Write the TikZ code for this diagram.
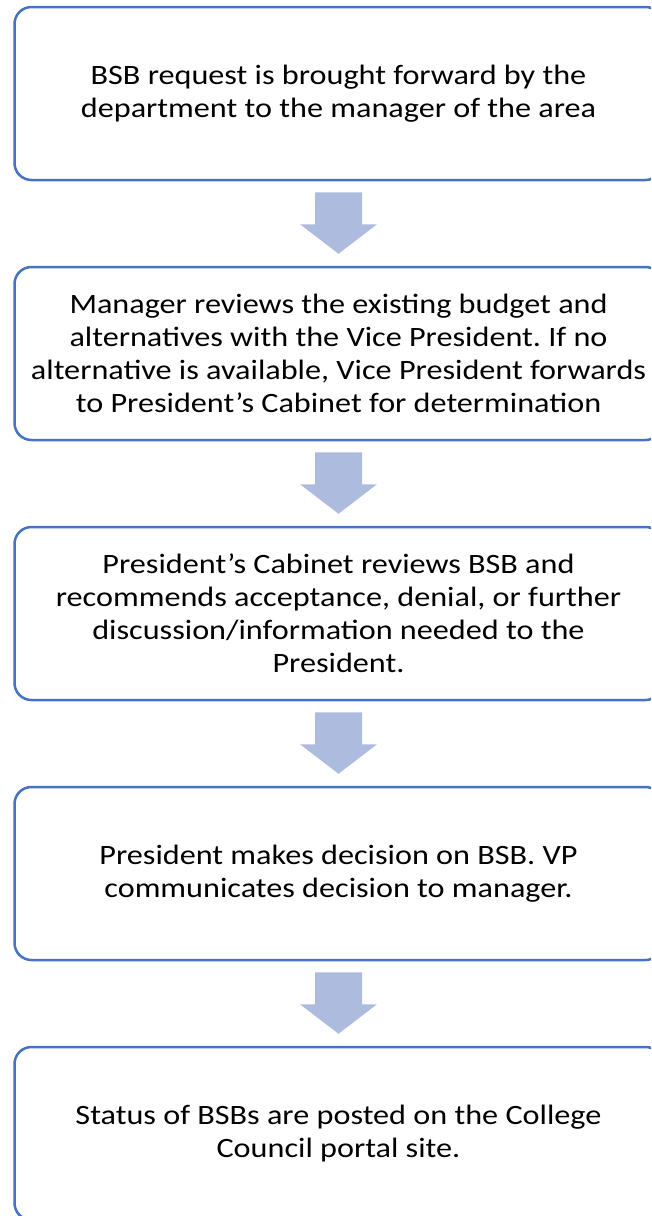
\documentclass[tikz,border=0pt]{standalone}
\usepackage{fontspec}
\setmainfont{Carlito}[FakeStretch=1.15]
\frenchspacing
\definecolor{boxblue}{RGB}{68,114,196}
\definecolor{arrowfill}{RGB}{173,187,222}
\tikzset{
  stepbox/.style={draw=boxblue, line width=2.5pt, rounded corners=17pt, fill=white,
    minimum width=648pt, minimum height=173pt, align=center, inner sep=0pt,
    font=\fontsize{28}{33}\selectfont, text=black},
  flowarrow/.style={fill=arrowfill, draw=none}
}
\newcommand\downflow[2]{%
  \fill[flowarrow] ([xshift=-23.5pt,yshift=-11pt]#1.south) -- ([xshift=23.5pt,yshift=-11pt]#1.south)
    -- ([xshift=23.5pt,yshift=-43pt]#1.south) -- ([xshift=38.5pt,yshift=-43pt]#1.south)
    -- ([yshift=12pt]#2.north) -- ([xshift=-38.5pt,yshift=-43pt]#1.south)
    -- ([xshift=-23.5pt,yshift=-43pt]#1.south) -- cycle;}
\begin{document}
\begin{tikzpicture}[x=1pt,y=-1pt]
\useasboundingbox (0,0) rectangle (651,1216);
\clip (0,0) rectangle (651,1216);
\node[stepbox] (b1) at (338.5,93.5) {BSB request is brought forward by the\\department to the manager of the area};
\node[stepbox] (b2) at (338.5,353.5) {Manager reviews the existing budget and\\alternatives with the Vice President. If no\\alternative is available, Vice President forwards\\to President’s Cabinet for determination};
\node[stepbox] (b3) at (338.5,613.5) {President’s Cabinet reviews BSB and\\recommends acceptance, denial, or further\\discussion/information needed to the\\President.};
\node[stepbox] (b4) at (338.5,873.5) {President makes decision on BSB. VP\\communicates decision to manager.};
\node[stepbox] (b5) at (338.5,1133.5) {Status of BSBs are posted on the College\\Council portal site.};
\downflow{b1}{b2}
\downflow{b2}{b3}
\downflow{b3}{b4}
\downflow{b4}{b5}
\end{tikzpicture}
\end{document}
